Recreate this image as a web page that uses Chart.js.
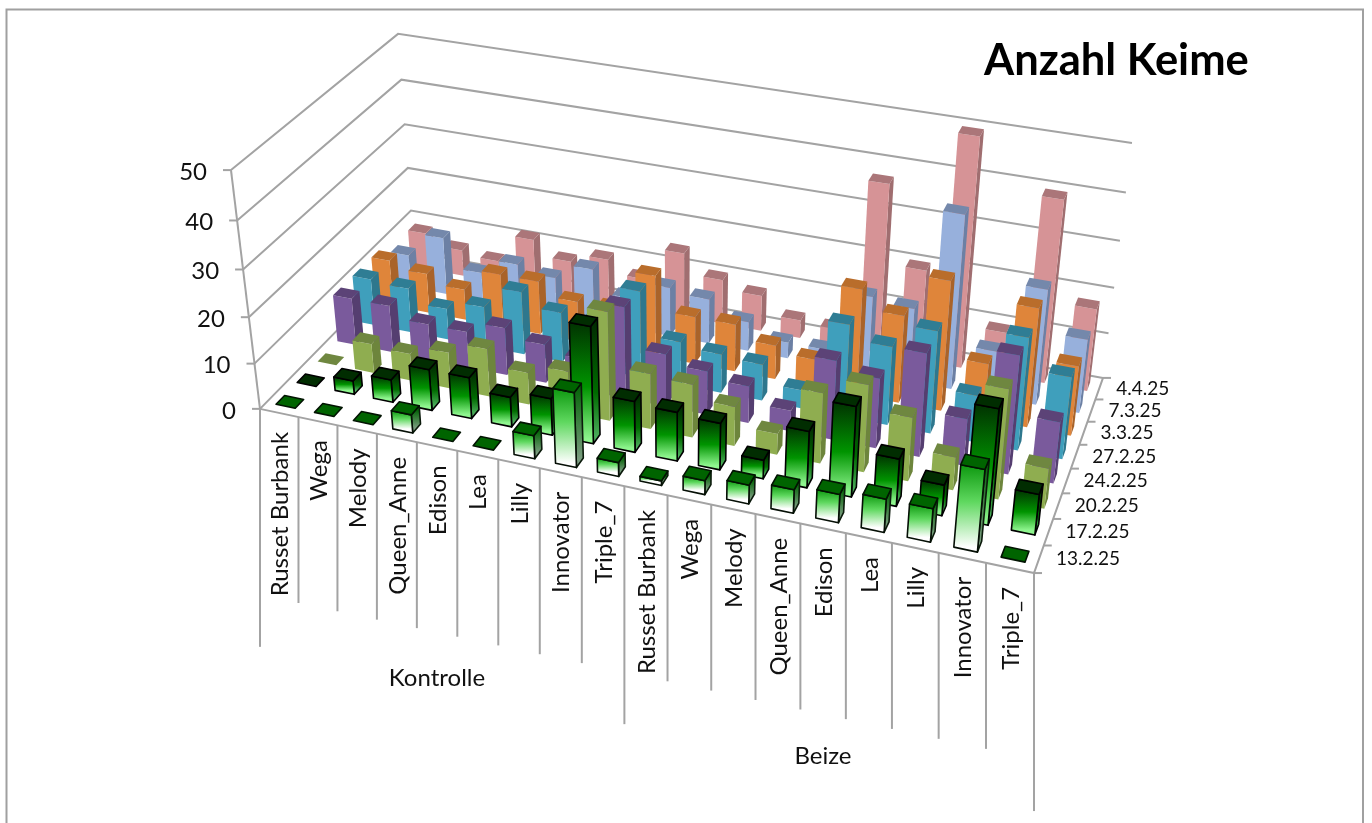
<!DOCTYPE html>
<html>
<head>
<meta charset="utf-8">
<title>Anzahl Keime</title>
<script src="https://cdn.jsdelivr.net/npm/chart.js@4"></script>
<style>
html, body { margin: 0; padding: 0; background: #fff; }
canvas { display: block; }
</style>
</head>
<body>
<canvas id="chart" width="1372" height="823"></canvas>
<script>
const categories = ['Russet Burbank', 'Wega', 'Melody', 'Queen_Anne', 'Edison', 'Lea', 'Lilly', 'Innovator', 'Triple_7',
  'Russet Burbank', 'Wega', 'Melody', 'Queen_Anne', 'Edison', 'Lea', 'Lilly', 'Innovator', 'Triple_7'];
const groups = ['Kontrolle', 'Beize'];
const dates = ['13.2.25', '17.2.25', '20.2.25', '24.2.25', '27.2.25', '3.3.25', '7.3.25', '4.4.25'];

const feb13 = [0, 0, 0, 4, 0, 0, 5, 16, 3, 1, 3, 4, 5, 6, 7, 7, 17, 0];
const feb17 = [0, 3, 5, 9, 9, 6.5, 8, 25, 11, 10.5, 10, 4, 12, 19, 10, 6.5, 24, 8.5];
const feb20 = [0, 6.5, 6, 8, 10.5, 7, 9, 23.5, 12, 11.5, 8.5, 4.5, 15, 18.5, 13.5, 7, 23, 8.5];
const feb24 = [10.5, 10.5, 8, 8, 10.5, 8.5, 7, 20, 11.5, 9.5, 8, 4.5, 17, 15, 22, 10, 25, 13];
const feb27 = [10.5, 10, 7, 9, 14, 11, 10, 19, 9.5, 8.5, 8, 4, 20, 17, 22, 10, 24, 17.5];
const mar03 = [10.5, 9, 7, 12, 12, 9, 9, 18, 10.5, 10.5, 7.5, 6, 23, 19, 28, 12, 25.5, 15];
const mar07 = [7.5, 13, 6.5, 10, 8.5, 12, 7, 11, 10, 6.5, 3.5, 3.5, 17, 16, 37.5, 10, 25, 16];
const apr04 = [8.5, 6, 5, 11.5, 8, 10, 7, 14.5, 10, 8, 4, 3.5, 37, 20, 49.5, 9.5, 39.5, 18];

const seriesValues = [feb13, feb17, feb20, feb24, feb27, mar03, mar07, apr04];

const flatStyles = [
  null,
  null,
  { front: '#8fad50', top: '#6f8740', side: '#6d853c' },
  { front: '#7a5a9c', top: '#5c4377', side: '#553e70' },
  { front: '#3f9fbc', top: '#2f7d94', side: '#2e778d' },
  { front: '#df853a', top: '#b96d2b', side: '#a9632a' },
  { front: '#97b0dc', top: '#7488ab', side: '#6c80a4' },
  { front: '#d69396', top: '#ab7679', side: '#a06e70' }
];

// solve the perspective of the box from its visible corners (u, v, w -> screen)
const anchors = [
  [0, 0, 0, 260, 409], [1, 0, 0, 1034, 573], [1, 1, 0, 1103, 378], [0, 1, 0, 414, 252],
  [0, 0, 1, 231, 170], [0, 1, 1, 398, 34], [1, 1, 1, 1132, 143]
];

const solveCamera = () => {
  const rows = [];
  anchors.forEach(([u, v, w, X, Y]) => {
    rows.push([u, v, w, 1, 0, 0, 0, 0, -X * u, -X * v, -X * w, X]);
    rows.push([0, 0, 0, 0, u, v, w, 1, -Y * u, -Y * v, -Y * w, Y]);
  });
  const n = 11;
  const m = [];
  for (let i = 0; i < n; i++) {
    m.push(new Array(n + 1).fill(0));
    for (let j = 0; j <= n; j++) {
      rows.forEach(r => { m[i][j] += r[i] * r[j]; });
    }
  }
  for (let c = 0; c < n; c++) {
    let best = c;
    for (let r = c + 1; r < n; r++) if (Math.abs(m[r][c]) > Math.abs(m[best][c])) best = r;
    [m[c], m[best]] = [m[best], m[c]];
    for (let r = 0; r < n; r++) {
      if (r === c) continue;
      const f = m[r][c] / m[c][c];
      for (let j = c; j <= n; j++) m[r][j] -= f * m[c][j];
    }
  }
  return m.map((row, i) => row[n] / row[i]);
};
const cam = solveCamera();

const toScreen = (u, v, w) => {
  const d = cam[8] * u + cam[9] * v + cam[10] * w + 1;
  return {
    x: (cam[0] * u + cam[1] * v + cam[2] * w + cam[3]) / d,
    y: (cam[4] * u + cam[5] * v + cam[6] * w + cam[7]) / d
  };
};

const polygon = (ctx, pts, fill, stroke) => {
  ctx.beginPath();
  pts.forEach((p, i) => { if (i === 0) ctx.moveTo(p.x, p.y); else ctx.lineTo(p.x, p.y); });
  ctx.closePath();
  ctx.fillStyle = fill;
  ctx.fill();
  if (stroke) {
    ctx.strokeStyle = stroke;
    ctx.lineWidth = 1.6;
    ctx.lineJoin = 'round';
    ctx.stroke();
  }
};

const gridLine = (ctx, pts) => {
  ctx.beginPath();
  pts.forEach((p, i) => { if (i === 0) ctx.moveTo(p.x, p.y); else ctx.lineTo(p.x, p.y); });
  ctx.strokeStyle = '#a3a3a3';
  ctx.lineWidth = 2;
  ctx.stroke();
};

const ramp = (ctx, top, bottom, stops) => {
  const g = ctx.createLinearGradient(0, top, 0, bottom);
  stops.forEach(s => g.addColorStop(s[0], s[1]));
  return g;
};

const barWidth = 0.5;
const barDepth = 0.4;

const drawBar = (ctx, chart, cat, ser, value) => {
  const { x, y, z } = chart.scales;
  const nx = d => (x.getPixelForValue(d) - x.left) / x.width;
  const nz = d => (z.getPixelForValue(d) - z.left) / z.width;
  const nw = d => (y.bottom - y.getPixelForValue(d)) / y.height;
  const padU = (1 - barWidth) / 2;
  const padV = (1 - barDepth) / 2;
  const u0 = nx(cat + padU), u1 = nx(cat + 1 - padU);
  const v0 = nz(ser + padV), v1 = nz(ser + 1 - padV);
  const w = nw(value);

  const front = [toScreen(u0, v0, 0), toScreen(u1, v0, 0), toScreen(u1, v0, w), toScreen(u0, v0, w)];
  const side = [toScreen(u1, v0, 0), toScreen(u1, v1, 0), toScreen(u1, v1, w), toScreen(u1, v0, w)];
  const top = [toScreen(u0, v0, w), toScreen(u1, v0, w), toScreen(u1, v1, w), toScreen(u0, v1, w)];
  const yTop = front[3].y, yBottom = front[0].y;

  if (ser === 0) {
    if (value > 0) {
      polygon(ctx, side, ramp(ctx, yTop, yBottom, [[0, '#07650a'], [1, '#7f9f84']]), '#0b1a0b');
      polygon(ctx, front, ramp(ctx, yTop, yBottom, [[0, '#0d980f'], [0.45, '#5fd85f'], [1, '#ffffff']]), '#050f05');
    }
    polygon(ctx, top, '#006400', '#021402');
  } else if (ser === 1) {
    if (value > 0) {
      polygon(ctx, side, ramp(ctx, yTop, yBottom, [[0, '#012c01'], [0.6, '#006b00'], [1, '#4fb060']]), '#000');
      polygon(ctx, front, ramp(ctx, yTop, yBottom, [[0, '#013201'], [0.55, '#009400'], [1, '#8ef58e']]), '#000');
    }
    polygon(ctx, top, '#012d01', '#000');
  } else {
    const st = flatStyles[ser];
    if (value > 0) {
      polygon(ctx, side, st.side);
      polygon(ctx, front, st.front);
    }
    polygon(ctx, top, st.top);
  }
};

const box3d = {
  id: 'box3d',
  beforeDatasetsDraw(chart) {
    const ctx = chart.ctx;
    const yScale = chart.scales.y;
    const nw = d => (yScale.bottom - yScale.getPixelForValue(d)) / yScale.height;
    ctx.save();

    // outer frame
    ctx.strokeStyle = '#a0a0a0';
    ctx.lineWidth = 2;
    ctx.beginPath();
    ctx.moveTo(6.5, 823);
    ctx.lineTo(6.5, 9.5);
    ctx.lineTo(1363, 9.5);
    ctx.lineTo(1363, 823);
    ctx.stroke();

    // walls
    yScale.ticks.forEach(t => {
      const w = nw(t.value);
      gridLine(ctx, [toScreen(0, 0, w), toScreen(0, 1, w), toScreen(1, 1, w)]);
      const p = toScreen(0, 0, w);
      gridLine(ctx, [{ x: p.x - 8, y: p.y }, p]);
      ctx.fillStyle = '#111';
      ctx.font = '24px Lato';
      ctx.textAlign = 'right';
      ctx.textBaseline = 'middle';
      ctx.fillText(t.label, p.x - 24, p.y + 2);
    });
    gridLine(ctx, [toScreen(0, 0, 0), toScreen(0, 0, 1)]);
    gridLine(ctx, [toScreen(0, 0, 0), toScreen(1, 0, 0), toScreen(1, 1, 0)]);

    // date axis
    dates.forEach((d, s) => {
      const a = toScreen(1, s / dates.length, 0);
      gridLine(ctx, [a, { x: a.x + 8, y: a.y }]);
      const m = toScreen(1, (s + 0.5) / dates.length, 0);
      ctx.fillStyle = '#111';
      ctx.font = '19px Lato';
      ctx.textAlign = 'left';
      ctx.textBaseline = 'middle';
      ctx.fillText(d, m.x + 17, m.y);
    });
    const end = toScreen(1, 1, 0);
    gridLine(ctx, [end, { x: end.x + 8, y: end.y }]);

    // category axis with group dividers
    const half = categories.length / groups.length;
    categories.forEach((c, i) => {
      const p = toScreen(i / categories.length, 0, 0);
      gridLine(ctx, [p, { x: p.x, y: p.y + (i % half === 0 ? 238 : 186) }]);
      const q = toScreen((i + 0.5) / categories.length, 0, 0);
      ctx.save();
      ctx.translate(q.x + 1, q.y + 19);
      ctx.rotate(-Math.PI / 2);
      ctx.fillStyle = '#111';
      ctx.font = '24px Lato';
      ctx.textAlign = 'right';
      ctx.textBaseline = 'middle';
      ctx.fillText(c, 0, 0);
      ctx.restore();
    });
    const last = toScreen(1, 0, 0);
    gridLine(ctx, [last, { x: last.x, y: last.y + 238 }]);

    ctx.fillStyle = '#111';
    ctx.font = '24px Lato';
    ctx.textAlign = 'center';
    ctx.textBaseline = 'middle';
    ctx.fillText(groups[0], 437, 678);
    ctx.fillText(groups[1], 823, 756);

    ctx.fillStyle = '#000';
    ctx.font = 'bold 43.5px Lato';
    ctx.textAlign = 'left';
    ctx.textBaseline = 'alphabetic';
    ctx.fillText('Anzahl Keime', 984, 75);

    // bars, far row first
    for (let s = chart.data.datasets.length - 1; s >= 0; s--) {
      chart.data.datasets[s].data.forEach(pt => {
        drawBar(ctx, chart, pt.x, s, pt.y);
      });
    }
    ctx.restore();
  }
};

new Chart(document.getElementById('chart').getContext('2d'), {
  type: 'scatter',
  plugins: [box3d],
  data: {
    datasets: dates.map((d, s) => ({
      label: d,
      data: seriesValues[s].map((v, i) => ({ x: i, y: v })),
      pointRadius: 0,
      showLine: false
    }))
  },
  options: {
    responsive: false,
    animation: false,
    layout: { padding: 0 },
    plugins: { legend: { display: false }, tooltip: { enabled: false } },
    scales: {
      x: { type: 'linear', display: false, min: 0, max: categories.length },
      z: { type: 'linear', axis: 'x', display: false, min: 0, max: dates.length },
      y: { type: 'linear', display: false, min: 0, max: 50, ticks: { stepSize: 10 } }
    }
  }
});
</script>
</body>
</html>
